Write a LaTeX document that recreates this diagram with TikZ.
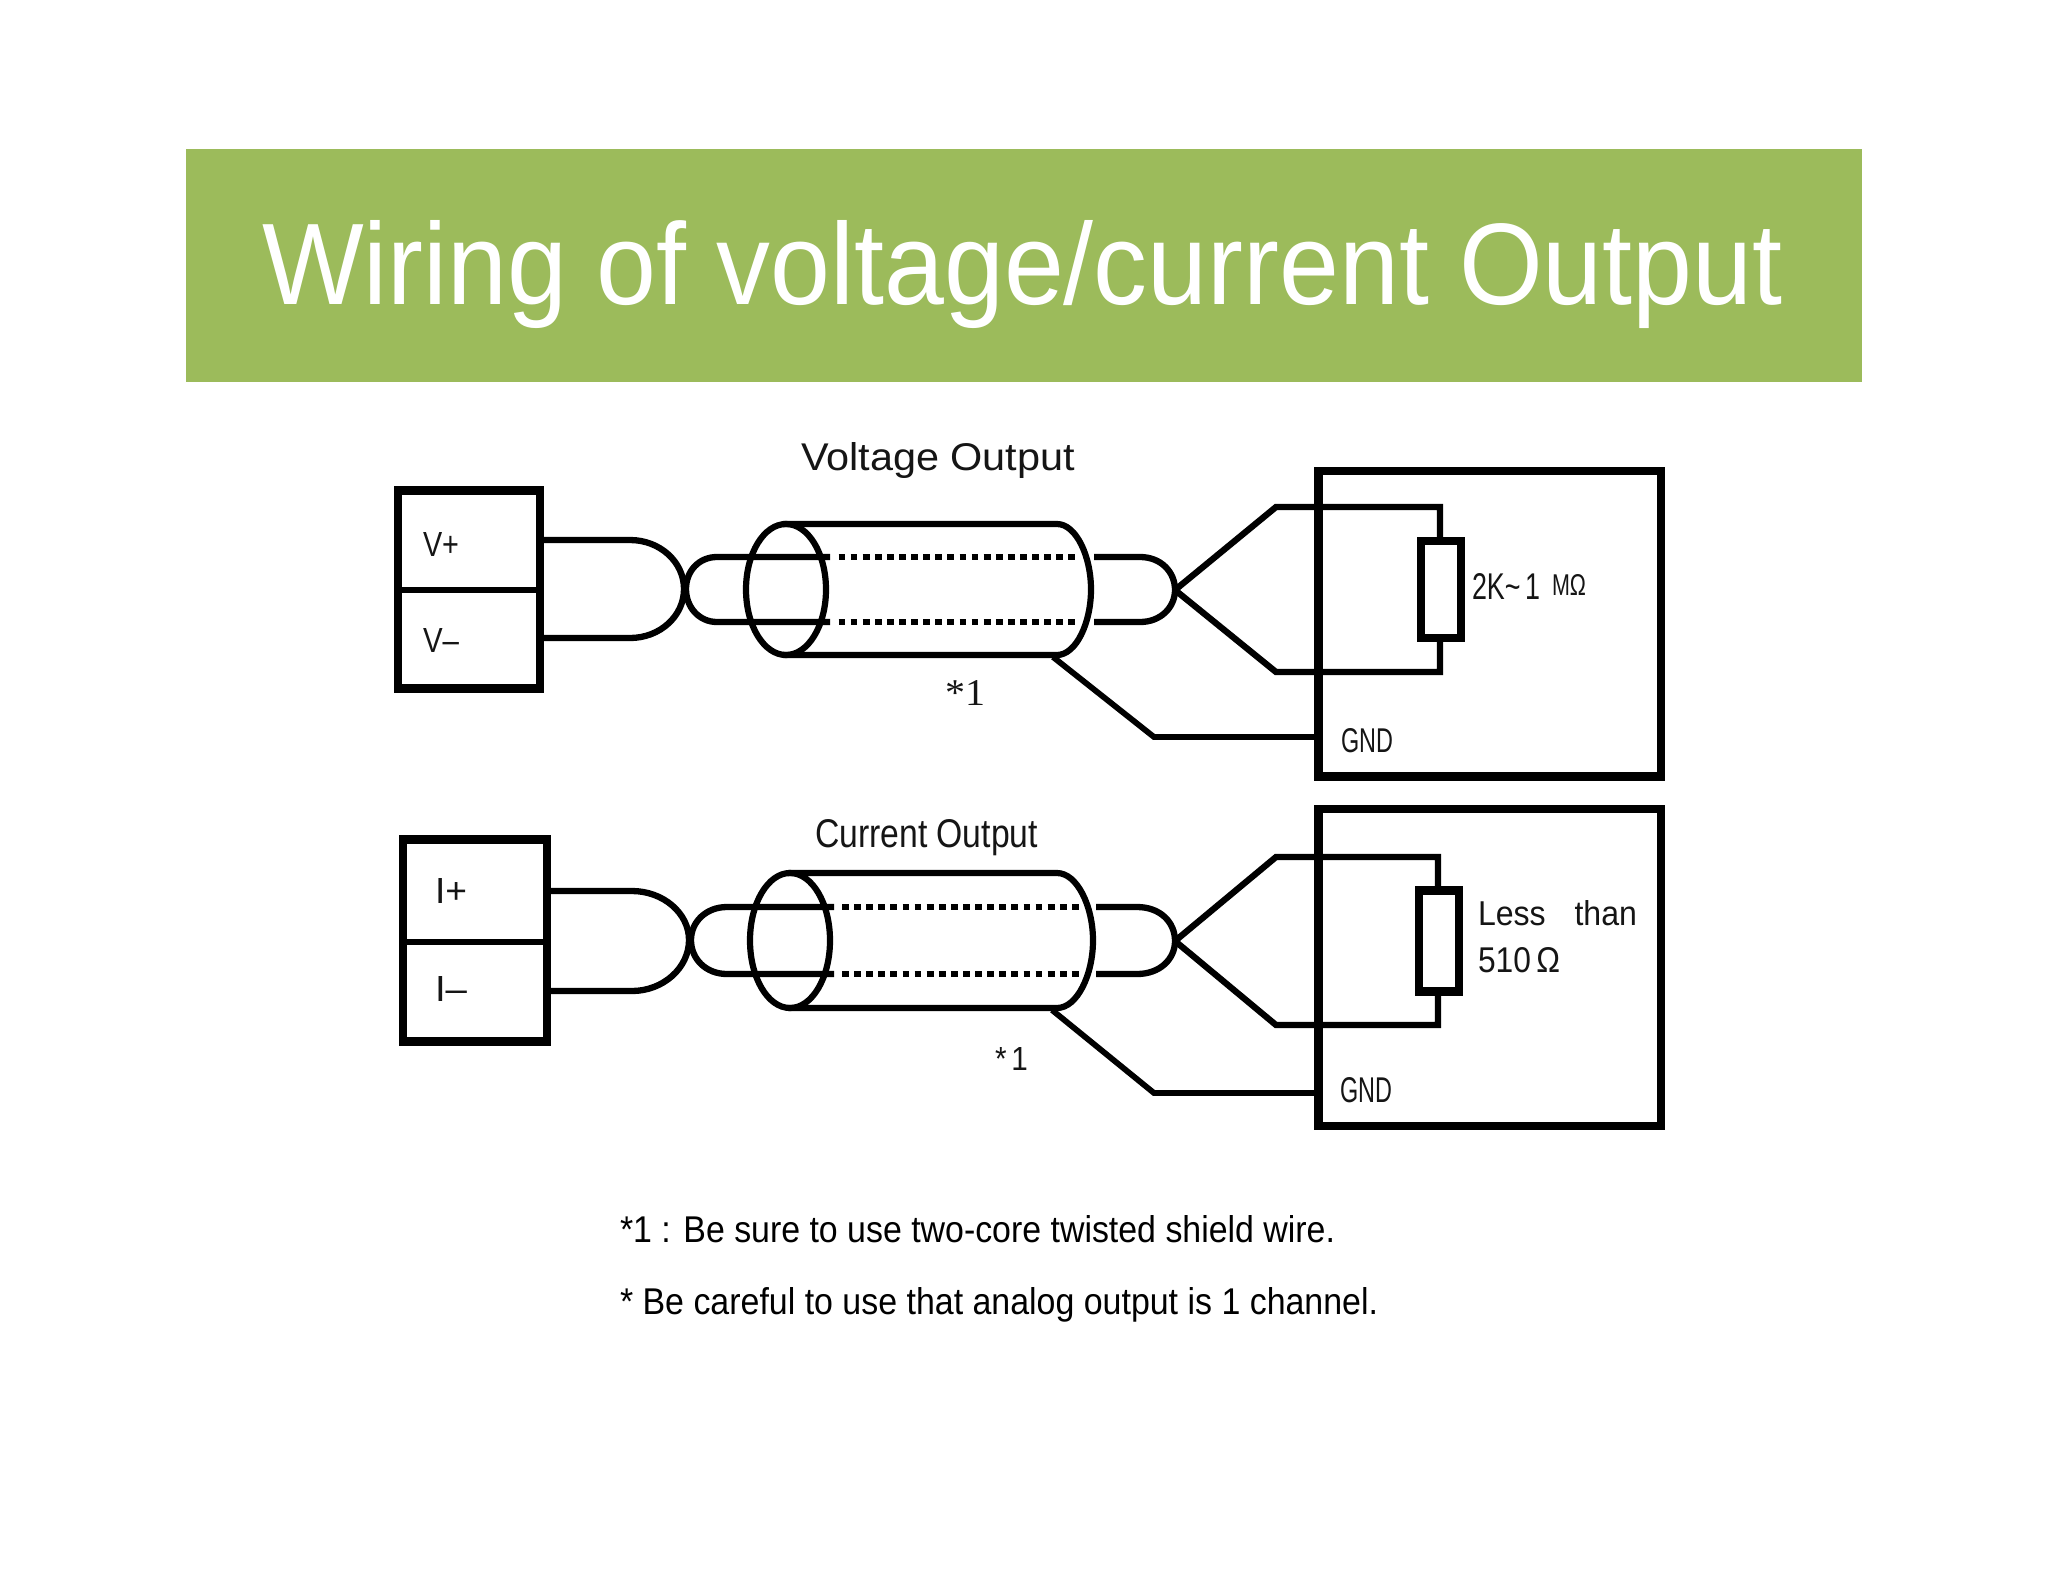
\documentclass[tikz,border=0pt]{standalone}
\usepackage{graphicx}
\usepackage{fontspec}
\setmainfont{Liberation Sans}
\newfontfamily\serifface{Liberation Serif}
\usetikzlibrary{calc}
\definecolor{band}{HTML}{9CBB5B}
\definecolor{ink}{HTML}{151515}
\newcommand{\fittext}[3]{\resizebox{#1pt}{#2pt}{#3}}
\tikzset{
  x=1pt,y=-1pt,
  lab/.style={anchor=base west,inner sep=0pt,outer sep=0pt,text=ink},
  heavy/.style={draw=black,line width=8.5pt,fill=white,inner sep=0pt,outer sep=0pt,rectangle},
  openbox/.style={draw=black,line width=8.5pt,inner sep=0pt,outer sep=0pt,rectangle},
  wire/.style={draw=black,line width=6.3pt,line join=miter},
  thinwire/.style={draw=black,line width=5.8pt},
  divider/.style={draw=black,line width=6.5pt},
  shield/.style={draw=black,line width=6.2pt},
  core/.style={draw=black,line width=6.8pt,dash pattern=on 6.8pt off 5.3pt}
}
\begin{document}
\begin{tikzpicture}
\useasboundingbox (0,0) rectangle (2048,1582);
\fill[white] (0,0) rectangle (2048,1582);
\node[rectangle,fill=band,inner sep=0pt,outer sep=0pt,minimum width=1676pt,minimum height=233pt,anchor=north west] (banner) at (186,149) {};
\node[lab,text=white] (title) at (262,304) {\fittext{1520}{84}{Wiring of voltage/current Output}};

%% ---------- Voltage output ----------
\node[lab] (vtitle) at (801,470) {\fittext{274}{28}{Voltage Output}};
\node[openbox,minimum width=142pt,minimum height=198pt,anchor=north west] (vsrc) at (398,490.5) {};
\coordinate (vdl) at (398,590); \coordinate (vdr) at (540,590);
\draw[divider] (vdl) -- (vdr);
\node[lab] (vplus) at (423,556) {\fittext{36}{24}{V+}};
\node[lab] (vminus) at (423,652) {\fittext{36}{24}{V--}};
\coordinate (va1) at (544,540); \coordinate (va2) at (630,540);
\coordinate (vx) at (684,589);
\coordinate (vb1) at (544,638); \coordinate (vb2) at (630,638);
\draw[wire] (va1) -- (va2) .. controls (660,540) and (684,562) .. (vx) .. controls (684,616) and (660,638) .. (vb2) -- (vb1);
\coordinate (vc1) at (717,557); \coordinate (vc2) at (717,622);
\coordinate (vc3) at (830,557); \coordinate (vc4) at (830,622);
\coordinate (vy) at (686,589);
\draw[wire] (vc3) -- (vc1) .. controls (699,557) and (686,571) .. (vy) .. controls (686,607) and (699,622) .. (vc2) -- (vc4);
\coordinate (vd1) at (838.5,557); \coordinate (vd2) at (1079,557);
\coordinate (vd3) at (838.5,622); \coordinate (vd4) at (1079,622);
\draw[core] (vd1) -- (vd2);
\draw[core] (vd3) -- (vd4);
\coordinate (vs1) at (783,524); \coordinate (vs2) at (1057,524);
\coordinate (vs3) at (783,655); \coordinate (vs4) at (1057,655);
\coordinate (vsc) at (786,589.5);
\draw[shield] (vs1) -- (vs2) .. controls (1076,524) and (1091,556) .. (1091,589.5) .. controls (1091,623) and (1076,655) .. (vs4) -- (vs3);
\draw[shield] (vsc) ellipse [x radius=40,y radius=65.5];
\coordinate (ve1) at (1094,557); \coordinate (ve2) at (1140,557);
\coordinate (ve3) at (1094,622); \coordinate (ve4) at (1140,622);
\coordinate (vz) at (1175,590);
\draw[wire] (ve1) -- (ve2) .. controls (1161,557) and (1175,572) .. (vz) .. controls (1175,607) and (1161,622) .. (ve4) -- (ve3);
\node[lab] (vstar) at (945,705) {\serifface\fittext{40}{25}{*1}};
\node[openbox,minimum width=342.5pt,minimum height=305.5pt,anchor=north west] (vload) at (1318.5,471) {};
\coordinate (vf1) at (1276,507); \coordinate (vf2) at (1440,507);
\coordinate (vf3) at (1276,672); \coordinate (vf4) at (1440,672);
\draw[wire] (vz) -- (vf1) -- (vf2) -- (vf4) -- (vf3) -- (vz);
\node[heavy,minimum width=40pt,minimum height=97pt,anchor=north west] (vres) at (1421,541) {};
\coordinate (vg1) at (1053,657); \coordinate (vg2) at (1154,737); \coordinate (vg3) at (1315,737);
\draw[thinwire] (vg1) -- (vg2) -- (vg3);
\node[lab] (vgnd) at (1341,752) {\fittext{52}{24}{GND}};
\node[lab] (vval) at (1472,599) {\fittext{68}{26}{2K{\textasciitilde}\,1}};
\node[lab] (vmeg) at (1552,595) {\fittext{34}{21}{MΩ}};

%% ---------- Current output ----------
\node[lab] (ititle) at (815,847) {\fittext{223}{28}{Current Output}};
\node[openbox,minimum width=144pt,minimum height=202pt,anchor=north west] (isrc) at (403,839.5) {};
\coordinate (idl) at (403,942); \coordinate (idr) at (547,942);
\draw[divider] (idl) -- (idr);
\node[lab] (iplus) at (435,903) {\fittext{32}{25}{I+}};
\node[lab] (iminus) at (435,1001) {\fittext{32}{25}{I--}};
\coordinate (ia1) at (551,891); \coordinate (ia2) at (632,891);
\coordinate (ix) at (689,940);
\coordinate (ib1) at (551,991); \coordinate (ib2) at (632,991);
\draw[wire] (ia1) -- (ia2) .. controls (663,891) and (689,913) .. (ix) .. controls (689,968) and (663,991) .. (ib2) -- (ib1);
\coordinate (ic1) at (727,907); \coordinate (ic2) at (727,974);
\coordinate (ic3) at (834,907); \coordinate (ic4) at (834,974);
\coordinate (iy) at (691,940);
\draw[wire] (ic3) -- (ic1) .. controls (706,907) and (691,922) .. (iy) .. controls (691,959) and (706,974) .. (ic2) -- (ic4);
\coordinate (id1) at (842,907); \coordinate (id2) at (1079,907);
\coordinate (id3) at (842,974); \coordinate (id4) at (1079,974);
\draw[core] (id1) -- (id2);
\draw[core] (id3) -- (id4);
\coordinate (is1) at (788,873); \coordinate (is2) at (1057,873);
\coordinate (is3) at (788,1008); \coordinate (is4) at (1057,1008);
\coordinate (isc) at (790,940.5);
\draw[shield] (is1) -- (is2) .. controls (1077,873) and (1093,906) .. (1093,940.5) .. controls (1093,975) and (1077,1008) .. (is4) -- (is3);
\draw[shield] (isc) ellipse [x radius=40,y radius=67.5];
\coordinate (ie1) at (1096,907); \coordinate (ie2) at (1137,907);
\coordinate (ie3) at (1096,974); \coordinate (ie4) at (1137,974);
\coordinate (iz) at (1175,941);
\draw[wire] (ie1) -- (ie2) .. controls (1160,907) and (1175,922) .. (iz) .. controls (1175,959) and (1160,974) .. (ie4) -- (ie3);
\node[lab] (istar) at (995,1070) {\fittext{33}{23}{*\,1}};
\node[openbox,minimum width=342.5pt,minimum height=317pt,anchor=north west] (iload) at (1318.5,809) {};
\coordinate (if1) at (1276,857); \coordinate (if2) at (1438,857);
\coordinate (if3) at (1276,1025); \coordinate (if4) at (1438,1025);
\draw[wire] (iz) -- (if1) -- (if2) -- (if4) -- (if3) -- (iz);
\node[heavy,minimum width=40pt,minimum height=101pt,anchor=north west] (ires) at (1419,890.5) {};
\coordinate (ig1) at (1052,1010); \coordinate (ig2) at (1154,1093); \coordinate (ig3) at (1315,1093);
\draw[thinwire] (ig1) -- (ig2) -- (ig3);
\node[lab] (ignd) at (1340,1102) {\fittext{52}{25}{GND}};
\node[lab] (iless) at (1478,925) {\fittext{159}{25}{Less\hspace{0.9em}than}};
\node[lab] (iohm) at (1478,972) {\fittext{82}{25}{510\,Ω}};

%% ---------- Notes ----------
\node[lab,text=black] (note1) at (620,1242) {\fittext{715}{27}{*1 : Be sure to use two-core twisted shield wire.}};
\node[lab,text=black] (note2) at (620,1314) {\fittext{758}{27}{* Be careful to use that analog output is 1 channel.}};
\end{tikzpicture}
\end{document}
